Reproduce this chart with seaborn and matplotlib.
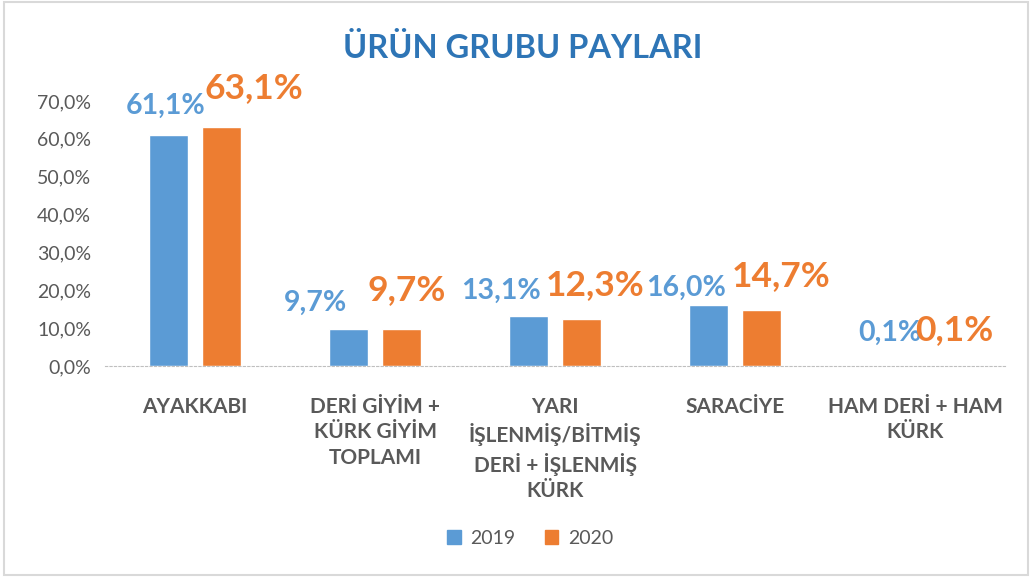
import pandas as pd
import matplotlib.pyplot as plt
import matplotlib.patches as mpatches
import seaborn as sns

# data
categories = ['AYAKKABI', 'DERİ GİYİM +\nKÜRK GİYİM\nTOPLAMI',
              'YARI\nİŞLENMİŞ/BİTMİŞ\nDERİ + İŞLENMİŞ\nKÜRK',
              'SARACİYE', 'HAM DERİ + HAM\nKÜRK']
years = ['2019', '2020']
share_2019 = [61.1, 9.7, 13.1, 16.0, 0.1]
share_2020 = [63.1, 9.7, 12.3, 14.7, 0.1]

# label offsets in pixels (dx, dy) from bar top, as placed in the original
off_2019 = [(-3, 29), (-33, 26), (-27, 26), (-22, 18), (1, 33)]
off_2020 = [(32, 39), (5, 39), (14, 34), (20, 34), (13, 36)]

blue = '#5B9BD5'
orange = '#ED7D31'
grey = '#595959'

df = pd.DataFrame({
    'kategori': categories * 2,
    'yil': [years[0]] * 5 + [years[1]] * 5,
    'pay': share_2019 + share_2020,
})

sns.set_style('white')
plt.rcParams['font.family'] = ['Lato', 'DejaVu Sans']

fig = plt.figure(figsize=(10.32, 5.77), dpi=100)
ax = fig.add_axes([105 / 1032, 1 - 366 / 577, 900 / 1032, 265 / 577])

sns.barplot(data=df, x='kategori', y='pay', hue='yil', order=categories,
            palette=[blue, orange], saturation=1, width=0.59, gap=0.25,
            ax=ax, legend=False)

ax.set_ylim(0, 70)
ax.set_xlim(-0.5, 4.5)
ax.set_yticks(range(0, 71, 10))
ax.set_yticklabels([f'{v},0%' for v in range(0, 71, 10)], color=grey, fontsize=14)
ax.set_xticklabels(categories, color=grey, fontsize=15, fontweight='bold',
                   linespacing=1.35, va='top')
ax.tick_params(axis='both', length=0, pad=10)
ax.tick_params(axis='x', pad=22)
ax.set_xlabel('')
ax.set_ylabel('')
for s in ['top', 'right', 'left']:
    ax.spines[s].set_visible(False)
ax.spines['bottom'].set_color('#BFBFBF')
ax.spines['bottom'].set_linestyle((0, (2, 2)))

for i in range(len(categories)):
    ax.annotate(f'{share_2019[i]:.1f}%'.replace('.', ','),
                (i - 0.1475, share_2019[i]), xytext=off_2019[i],
                textcoords='offset pixels', ha='center', va='center',
                color=blue, fontsize=20.5, fontweight='bold', annotation_clip=False)
    ax.annotate(f'{share_2020[i]:.1f}%'.replace('.', ','),
                (i + 0.1475, share_2020[i]), xytext=off_2020[i],
                textcoords='offset pixels', ha='center', va='center',
                color=orange, fontsize=25.5, fontweight='bold', annotation_clip=False)

fig.text(523 / 1032, 1 - 48 / 577, 'ÜRÜN GRUBU PAYLARI', ha='center', va='center',
         color='#2E75B6', fontsize=23.5, fontweight='bold')

handles = [mpatches.Patch(color=blue, label=years[0]),
           mpatches.Patch(color=orange, label=years[1])]
fig.legend(handles=handles, loc='center', bbox_to_anchor=(530 / 1032, 1 - 538 / 577),
           ncol=2, frameon=False, fontsize=14, handlelength=0.7, handleheight=0.7,
           handletextpad=0.5, columnspacing=1.5, labelcolor=grey)

fig.patches.append(mpatches.Rectangle((0.004, 0.004), 0.992, 0.992, transform=fig.transFigure,
                                      fill=False, edgecolor='#D9D9D9', linewidth=1.5))

fig.savefig('out.png', dpi=100)
